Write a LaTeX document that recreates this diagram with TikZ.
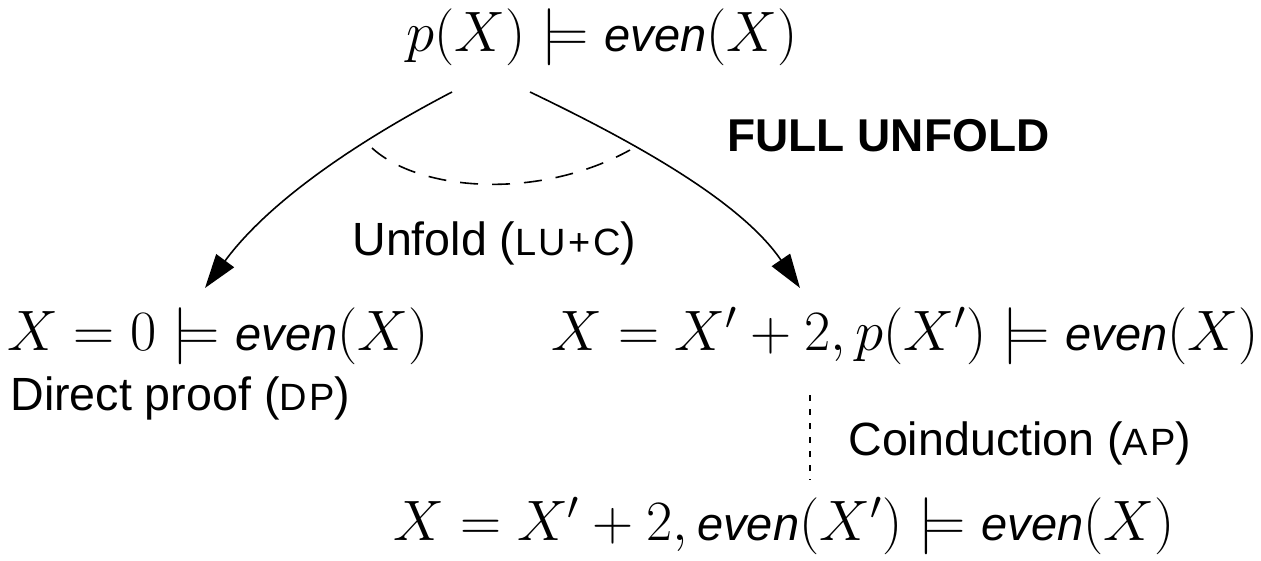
\RequirePackage{fix-cm}
\documentclass[tikz,border=0pt]{standalone}
\usepackage[no-math]{fontspec}
\newfontfamily\hv{Liberation Sans}
\usetikzlibrary{arrows.meta}
\newcommand{\ev}{\mbox{\fontsize{23.5}{28}\selectfont\hv\itshape even}}
\newcommand{\sm}[1]{{\fontsize{19}{22}\selectfont\addfontfeature{LetterSpace=6}#1}}
\begin{document}
\begin{tikzpicture}[x=0.5pt,y=0.5pt,
  mathnode/.style={inner sep=0pt, anchor=base, font=\fontsize{28.5}{34}\selectfont},
  lab/.style={inner sep=0pt, anchor=base west, font=\fontsize{23.3}{28}\selectfont\hv},
  arr/.style={line width=0.8pt, -{Triangle[length=17pt,width=11pt]}},
  dsh/.style={line width=0.8pt, dash pattern=on 9pt off 7pt},
  dot/.style={line width=0.8pt, dash pattern=on 3pt off 4pt}]
\useasboundingbox (0,0) rectangle (1261,-561);
\node[mathnode] (top) at (602,-52) {$p(X)\models\ev(X)$};
\node[mathnode] (lft) at (218,-350) {$X=0\models\ev(X)$};
\node[mathnode] (rgt) at (905,-350) {$X=X'+2,p(X')\models\ev(X)$};
\node[mathnode] (bot) at (784,-540) {$X=X'+2,\ev(X')\models\ev(X)$};
\node[lab, font=\fontsize{23}{28}\selectfont\hv\bfseries] (full) at (727,-152) {FULL UNFOLD};
\node[lab] (unf) at (352,-255) {Unfold (\sm{LU+C})};
\node[lab] (dp) at (10,-410) {Direct proof (\sm{DP})};
\node[lab] (co) at (848,-455) {Coinduction (\sm{AP})};
\coordinate (ls) at (452,-92);
\coordinate (le) at (205,-288);
\coordinate (rs) at (530,-92);
\coordinate (re) at (800,-288);
\coordinate (ds) at (372,-148);
\coordinate (de) at (630,-150);
\coordinate (os) at (810,-395);
\coordinate (oe) at (810,-480);
\draw[arr] (ls) .. controls (360,-140) and (270,-200) .. (le);
\draw[arr] (rs) .. controls (630,-140) and (740,-200) .. (re);
\draw[dsh] (ds) .. controls (420,-192) and (540,-200) .. (de);
\draw[dot] (os) -- (oe);
\end{tikzpicture}
\end{document}
